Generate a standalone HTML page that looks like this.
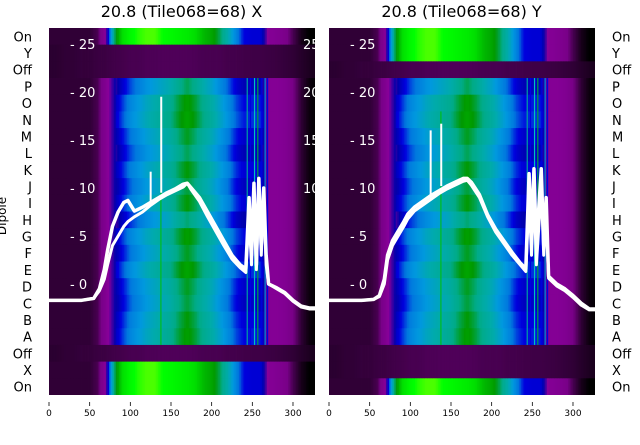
<!DOCTYPE html>
<html><head><meta charset="utf-8"><style>
body{margin:0;background:#fff;width:640px;height:440px;overflow:hidden;font-family:"Liberation Sans","DejaVu Sans",sans-serif}
svg text{font-family:"DejaVu Sans","Liberation Sans",sans-serif}
</style></head><body>
<svg id="c" width="640" height="440" viewBox="0 0 640 440"></svg>
<script>
// ---- data ----
const rowLabels = ["On","Y","Off","P","O","N","M","L","K","J","I","H","G","F","E","D","C","B","A","Off","X","On"];
const colUnits = [0,10,20,30,40,50,60,70,80,90,100,110,120,130,140,150,160,170,180,190,200,210,220,230,240,250,260,270,280,290,300,310,320,330];
const profileNormal = [0.02,0.02,0.02,0.02,0.02,0.02,0.03,0.08,0.14,0.2,0.25,0.28,0.31,0.33,0.35,0.37,0.41,0.44,0.41,0.37,0.34,0.30,0.26,0.21,0.18,0.19,0.19,0.09,0.09,0.08,0.05,0.02,0.005,0.0];
const profileOn = [0.02,0.02,0.02,0.02,0.02,0.02,0.03,0.1,0.4,0.55,0.59,0.61,0.62,0.62,0.60,0.59,0.58,0.57,0.55,0.50,0.47,0.42,0.35,0.27,0.2,0.19,0.19,0.09,0.08,0.06,0.03,0.01,0.0,0.0];
const profileOff = [0.018,0.018,0.02,0.02,0.022,0.022,0.024,0.025,0.027,0.028,0.03,0.03,0.032,0.032,0.033,0.033,0.033,0.033,0.032,0.03,0.03,0.03,0.028,0.028,0.027,0.026,0.026,0.025,0.024,0.022,0.02,0.016,0.012,0.01];
const rowKindX = ["on","off","off","n","n","n","n","n","n","n","n","n","n","n","n","n","n","n","n","off","on","on"];
const rowKindY = ["on","on","off","n","n","n","n","n","n","n","n","n","n","n","n","n","n","n","n","off","off","on"];
const rowGain = [0,0,0,-0.02,0.02,0.03,0,-0.02,0.01,-0.01,0.01,-0.03,0.02,0,0.03,0,-0.01,0.01,0.02,0,0,0];
const yTicks = [0,5,10,15,20,25];
const xTicks = [0,50,100,150,200,250,300];
const lineX = [0,20,40,55,62,68,72,78,85,92,97,105,115,125,135,145,155,165,170,175,185,195,205,215,225,235,242,246,249,252,255,258,261,264,267,270,280,290,300,310,320,328];
const seriesX1 = [-1.7,-1.7,-1.7,-1.5,-0.5,1.5,3.5,6,7.5,8.5,8.7,7.6,8,8.5,9,9.5,9.9,10.4,10.5,10,9,7.5,6,4.5,3,2,1.6,9,3,10.5,2,11,4,10,3,0,-0.4,-0.9,-1.7,-2.3,-2.5,-2.5];
const seriesX2 = [-1.7,-1.7,-1.7,-1.5,-0.7,0.5,2,4,5,6,6.5,7,7.5,8.2,8.8,9.3,9.7,10.1,10.5,9.8,8.6,7,5.5,4,2.6,1.7,1.2,7,2,9,1.5,10,3,9,2,0,-0.5,-1,-1.8,-2.4,-2.6,-2.6];
const spikeXx = [125,138];
const spikeXv = [11.7,19.5];
const seriesY1 = [-1.7,-1.7,-1.7,-1.6,-1.2,0.5,3,4.5,5.5,6.5,7.3,8,8.6,9.2,9.7,10.2,10.6,11,11,10.6,9.3,7.2,5.7,4.5,3.3,2.2,1.6,11.5,5,12,4,8,12,4,9,0.8,0,-0.5,-1.2,-2,-2.6,-2.6];
const seriesY2 = [-1.7,-1.7,-1.7,-1.6,-1.3,0,2.5,4,5,6,6.8,7.6,8.2,8.8,9.4,9.9,10.3,10.7,10.8,10.3,9,7,5.4,4.2,3,2,1.3,9,3,10,2,6,10,3,7,0.6,-0.2,-0.7,-1.4,-2.2,-2.7,-2.7];
const spikeYx = [125,138];
const spikeYv = [16,16.7];

// ---- helpers ----
const NS="http://www.w3.org/2000/svg";
const svg=document.getElementById('c');
const cm=[[0,0,0,0],[0.05,.47,0,.53],[0.1,.53,0,.6],[0.15,0,0,.67],[0.2,0,0,.87],[0.25,0,.47,.87],[0.3,0,.6,.87],[0.35,0,.67,.67],[0.4,0,.67,.53],[0.45,0,.6,0],[0.5,0,.73,0],[0.55,0,.87,0],[0.6,0,1,0],[0.65,.73,1,0],[0.7,.93,.93,0],[0.75,1,.8,0],[1,1,.6,0]];
function cmap(v){v=Math.max(0,Math.min(1,v));for(let i=1;i<cm.length;i++){if(v<=cm[i][0]){const a=cm[i-1],b=cm[i],t=(v-a[0])/(b[0]-a[0]);const c=[1,2,3].map(k=>Math.round(255*(a[k]+(b[k]-a[k])*t)));return `rgb(${c})`;}}return '#fff';}
function mk(tag,attrs,parent){const e=document.createElementNS(NS,tag);for(const k in attrs)e.setAttribute(k,attrs[k]);(parent||svg).appendChild(e);return e;}
function interp(prof,u){const i=Math.min(colUnits.length-2,Math.floor(u/10));const t=(u-colUnits[i])/10;return prof[i]+(prof[i+1]-prof[i])*t;}

function panel(px0,px1,kinds,title,lx,ly1,ly2,sx,sv,side,pname){
  const top=28,bot=395,rh=(bot-top)/rowLabels.length;
  const xs=u=>px0+1+u*0.8133; const ys=v=>284-v*9.6;
  const g=mk('g',{});
  
  
  const clip=mk('clipPath',{id:'cl'+px0},g);mk('rect',{x:px0,y:top,width:px1-px0,height:bot-top},clip);
  const hm=mk('g',{'clip-path':`url(#cl${px0})`},g);
  
  
  rowLabels.forEach((lab,r)=>{
    const kind=kinds[r];const prof=kind==='on'?profileOn:kind==='off'?profileOff:profileNormal;
    for(let u=0;u<330;u+=2){
      const base=interp(prof,u+1);
      const val=base+(kind==='n'&&base>0.15?rowGain[r]:0);
      const x0=xs(u),x1=xs(u+2);
      const cell=mk('rect',{x:x0,y:top+r*rh,width:x1-x0+0.4,height:rh+0.4,fill:cmap(val)},hm);
      
      
    }
  });
  [[243,'#00a0a0'],[247,'#0000e0'],[252,'#00c0c0'],[256,'#00a040'],[261,'#0000e0'],[265,'#0090d0'],[268,'#0000e0']].forEach(s=>{
    const l=mk('rect',{x:xs(s[0]),y:top+3*rh,width:1.2,height:16*rh,fill:s[1]},hm);
    });
  mk('rect',{x:xs(137),y:top+5*rh,width:1,height:14*rh,fill:'#00c000'},hm);
  yTicks.forEach(v=>{const t=mk('text',{x:px0+22,y:ys(v)+5,fill:'#fff','font-size':13},g);t.textContent='- '+v;
    });
  [ly1,ly2].forEach((s,k)=>{const p=mk('polyline',{points:lx.map((u,i)=>xs(u)+','+ys(s[i])).join(' '),fill:'none',stroke:'#fff','stroke-width':k?3:3.5,'stroke-linejoin':'round'},hm);
    });
  sx.forEach((u,i)=>{const b=ys(ly1[lx.findIndex(q=>q>=u)]);const l=mk('line',{x1:xs(u),x2:xs(u),y1:b,y2:ys(sv[i]),stroke:'#fff','stroke-width':2},hm);
    });
  xTicks.forEach(v=>{mk('line',{x1:xs(v),x2:xs(v),y1:402,y2:406,stroke:'#000','stroke-width':0.8},g);
    const t=mk('text',{x:xs(v),y:416,'font-size':9,'text-anchor':'middle'},g);t.textContent=v;
    });
  rowLabels.forEach((lab,r)=>{const t=mk('text',{x:side==='l'?32:612,y:top+r*rh+rh/2+5,'font-size':13,'text-anchor':side==='l'?'end':'start'},g);t.textContent=lab;
    });
  const tt=mk('text',{x:(px0+px1)/2,y:17,'font-size':16,'text-anchor':'middle'},g);tt.textContent=title;
  
}
panel(48,315,rowKindX,'20.8 (Tile068=68) X',lineX,seriesX1,seriesX2,spikeXx,spikeXv,'l','panel-x');
panel(328,595,rowKindY,'20.8 (Tile068=68) Y',lineX,seriesY1,seriesY2,spikeYx,spikeYv,'r','panel-y');
[25,20,15,10].forEach(v=>{const t=mk('text',{x:303,y:284-v*9.6+5,fill:'#fff','font-size':13});t.textContent=v;
  });
const yl=mk('text',{x:0,y:0,'font-size':12,'text-anchor':'middle',transform:'translate(6,216) rotate(-90)'});yl.textContent='Dipole';

</script>
</body></html>
